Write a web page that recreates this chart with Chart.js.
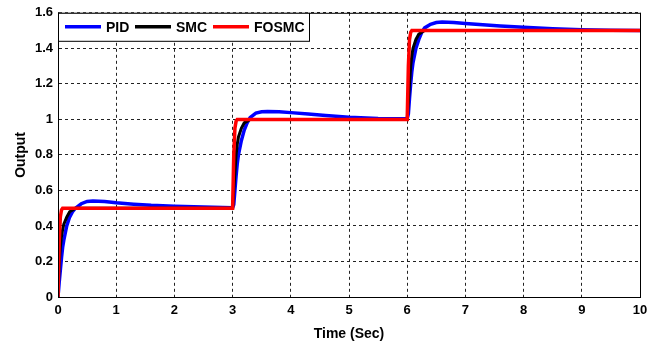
<!DOCTYPE html>
<html>
<head>
<meta charset="UTF-8">
<title>Output</title>
<script src="https://cdn.jsdelivr.net/npm/chart.js"></script>
<style>
  body { margin: 0; background: #fff; }
</style>
</head>
<body>
<canvas id="myChart" width="670" height="347"></canvas>
<script>
// time points (sec)
const tempo = [
  0, 0.02, 0.04, 0.06, 0.08, 0.1, 0.15, 0.2, 0.25, 0.3, 0.4, 0.5, 0.6, 0.8, 1, 1.3, 1.6, 2, 2.5,
  3, 3.02, 3.04, 3.06, 3.08, 3.1, 3.15, 3.2, 3.25, 3.3, 3.4, 3.5, 3.6, 3.8, 4, 4.3, 4.6, 5, 5.5,
  6, 6.02, 6.04, 6.06, 6.08, 6.1, 6.15, 6.2, 6.25, 6.3, 6.4, 6.5, 6.6, 6.8, 7, 7.3, 7.6, 8, 8.5, 9, 9.5, 10
];

const pid = [
  0, 0.08, 0.15, 0.22, 0.28, 0.32, 0.4, 0.45, 0.48, 0.5, 0.525, 0.538, 0.54, 0.537, 0.53, 0.522, 0.516, 0.511, 0.506,
  0.503, 0.52, 0.6, 0.68, 0.75, 0.8, 0.88, 0.94, 0.98, 1.01, 1.035, 1.043, 1.045, 1.043, 1.038, 1.03, 1.022, 1.012, 1.005,
  1.003, 1.03, 1.12, 1.2, 1.27, 1.32, 1.4, 1.45, 1.49, 1.515, 1.535, 1.545, 1.548, 1.546, 1.54, 1.533, 1.526, 1.518, 1.51, 1.505, 1.502, 1.5
];

const smc = [
  0, 0.18, 0.28, 0.34, 0.38, 0.41, 0.45, 0.48, 0.49, 0.5, 0.5, 0.5, 0.5, 0.5, 0.5, 0.5, 0.5, 0.5, 0.5,
  0.5, 0.6, 0.7, 0.8, 0.86, 0.9, 0.95, 0.98, 0.99, 1, 1, 1, 1, 1, 1, 1, 1, 1, 1,
  1, 1.1, 1.2, 1.3, 1.36, 1.4, 1.45, 1.48, 1.49, 1.5, 1.5, 1.5, 1.5, 1.5, 1.5, 1.5, 1.5, 1.5, 1.5, 1.5, 1.5, 1.5
];

const fosmc = [
  0, 0.3, 0.45, 0.49, 0.5, 0.5, 0.5, 0.5, 0.5, 0.5, 0.5, 0.5, 0.5, 0.5, 0.5, 0.5, 0.5, 0.5, 0.5,
  0.5, 0.8, 0.95, 0.99, 1, 1, 1, 1, 1, 1, 1, 1, 1, 1, 1, 1, 1, 1, 1,
  1, 1.3, 1.45, 1.49, 1.5, 1.5, 1.5, 1.5, 1.5, 1.5, 1.5, 1.5, 1.5, 1.5, 1.5, 1.5, 1.5, 1.5, 1.5, 1.5, 1.5, 1.5
];

const nomes = ['PID', 'SMC', 'FOSMC'];
const cores = ['rgb(0,0,255)', 'rgb(0,0,0)', 'rgb(255,0,0)'];
const xTicks = [0, 1, 2, 3, 4, 5, 6, 7, 8, 9, 10];
const yTicks = [0, 0.2, 0.4, 0.6, 0.8, 1, 1.2, 1.4, 1.6];

function pontos(serie) {
  return tempo.map(function (t, i) { return { x: t, y: serie[i] }; });
}

const fonteTick = { family: 'Liberation Sans, Arial', size: 13, weight: 'bold' };

// moldura e legenda no estilo matlab
const moldura = {
  id: 'moldura',
  afterDatasetsDraw(chart) {
    const c = chart.ctx;
    const a = chart.chartArea;
    c.save();
    c.strokeStyle = '#000';
    c.lineWidth = 1;
    c.setLineDash([]);
    c.strokeRect(a.left + 0.5, a.top + 0.5, a.right - a.left, a.bottom - a.top);

    // legenda
    const lx = a.left, ly = a.top, lw = 251, lh = 28;
    c.fillStyle = '#fff';
    c.fillRect(lx, ly, lw, lh);
    c.strokeRect(lx + 0.5, ly + 0.5, lw, lh);
    c.font = 'bold 14px Liberation Sans, Arial';
    c.textBaseline = 'middle';
    const posLinha = [7, 77, 155];
    c.lineWidth = 3.5;
    for (let i = 0; i < nomes.length; i++) {
      const x0 = lx + posLinha[i];
      c.strokeStyle = cores[i];
      c.beginPath();
      c.moveTo(x0, ly + 14);
      c.lineTo(x0 + 36, ly + 14);
      c.stroke();
      c.fillStyle = '#000';
      c.fillText(nomes[i], x0 + 41, ly + 15);
    }
    c.restore();
  }
};

const ctx = document.getElementById('myChart');

var Grafico = new Chart(ctx, {
  type: 'line',
  data: {
    datasets: [
      { label: nomes[0], data: pontos(pid), borderColor: cores[0], borderWidth: 3.5, order: 3 },
      { label: nomes[1], data: pontos(smc), borderColor: cores[1], borderWidth: 3, order: 2 },
      { label: nomes[2], data: pontos(fosmc), borderColor: cores[2], borderWidth: 3.5, order: 1 }
    ]
  },
  options: {
    responsive: false,
    animation: false,
    elements: { point: { radius: 0 }, line: { tension: 0 } },
    layout: { padding: { left: 0, right: 30, top: 7, bottom: 0 } },
    plugins: { legend: { display: false }, tooltip: { enabled: false } },
    scales: {
      x: {
        type: 'linear',
        min: 0,
        max: 10,
        afterBuildTicks: function (s) { s.ticks = xTicks.map(function (v) { return { value: v }; }); },
        afterFit: function (s) { s.height = 50; },
        grid: { color: '#222', tickLength: 0 },
        border: { display: true, color: '#000', width: 1, dash: [3, 3] },
        ticks: { color: '#000', font: fonteTick, padding: 6, maxRotation: 0 },
        title: { display: true, text: 'Time (Sec)', color: '#000', font: { family: 'Liberation Sans, Arial', size: 14, weight: 'bold' }, padding: { top: 0 } }
      },
      y: {
        min: 0,
        max: 1.6,
        afterBuildTicks: function (s) { s.ticks = yTicks.map(function (v) { return { value: v }; }); },
        afterFit: function (s) { s.width = 58; },
        grid: { color: '#222', tickLength: 0 },
        border: { display: true, color: '#000', width: 1, dash: [3, 3] },
        ticks: { color: '#000', font: fonteTick, padding: 5, callback: function (v) { return String(v); } },
        title: { display: true, text: 'Output', color: '#000', font: { family: 'Liberation Sans, Arial', size: 14, weight: 'bold' }, padding: { top: 13 } }
      }
    }
  },
  plugins: [moldura]
});
</script>
</body>
</html>
